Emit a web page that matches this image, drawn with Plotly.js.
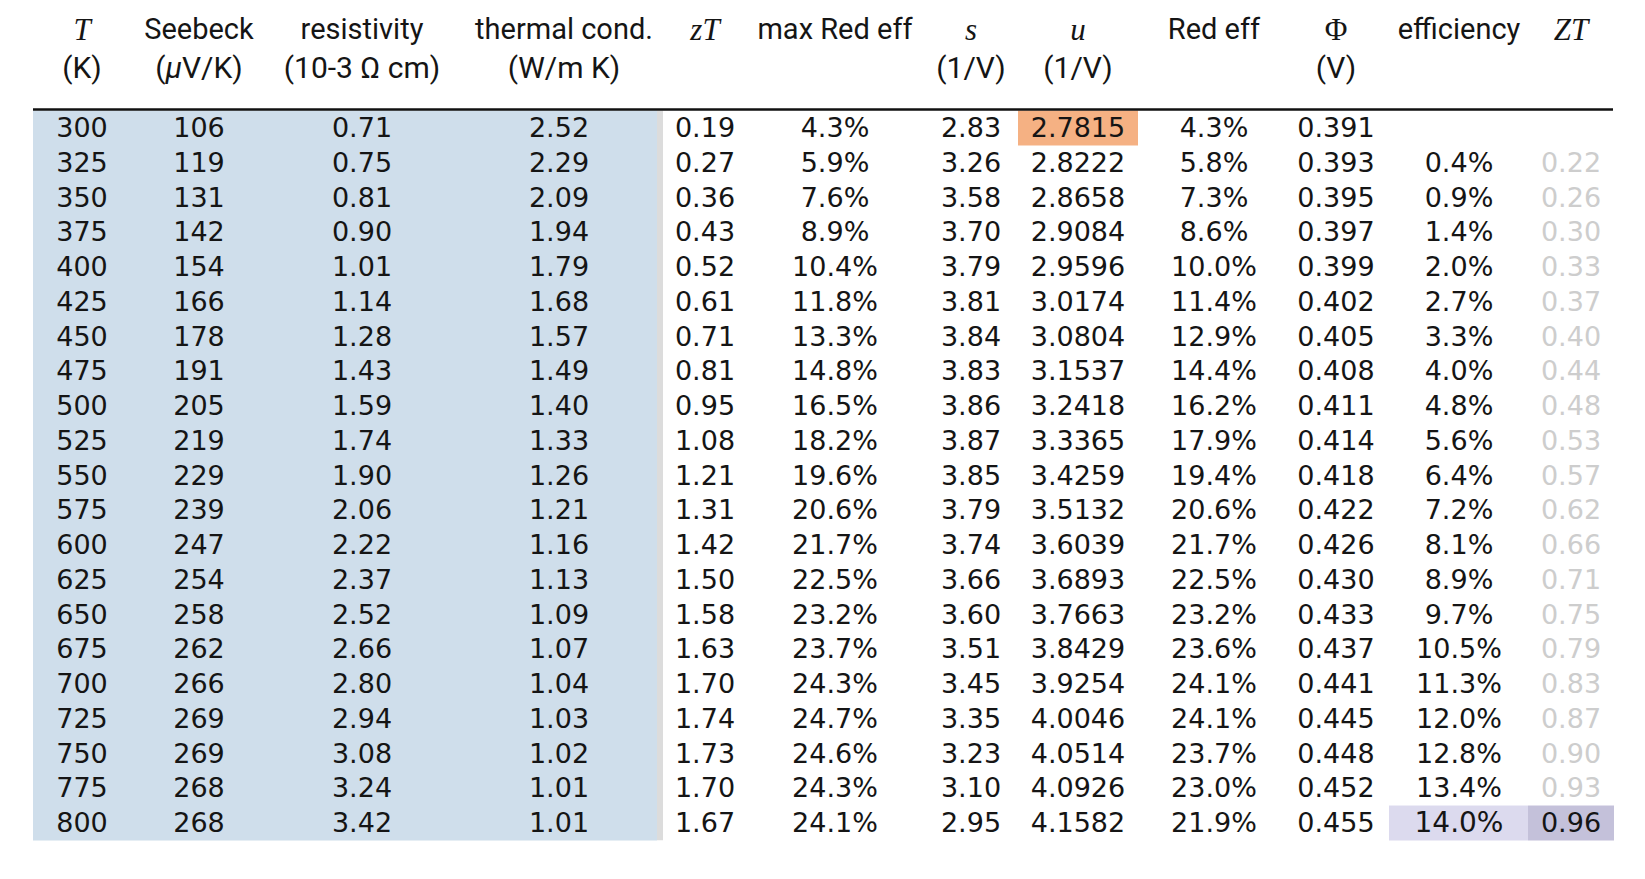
<!DOCTYPE html>
<html>
<head>
<meta charset="utf-8">
<script src="https://cdn.plot.ly/plotly-3.0.1.min.js"></script>
<style>html,body{margin:0;padding:0;background:#fff;}#chart{width:1645px;height:879px;}</style>
</head>
<body>
<div id="chart"></div>
<script>
// ---- data ----
const temperature = [300,325,350,375,400,425,450,475,500,525,550,575,600,625,650,675,700,725,750,775,800];
const seebeck = [106,119,131,142,154,166,178,191,205,219,229,239,247,254,258,262,266,269,269,268,268];
const resistivity = [0.71,0.75,0.81,0.90,1.01,1.14,1.28,1.43,1.59,1.74,1.90,2.06,2.22,2.37,2.52,2.66,2.80,2.94,3.08,3.24,3.42];
const thermalCond = [2.52,2.29,2.09,1.94,1.79,1.68,1.57,1.49,1.40,1.33,1.26,1.21,1.16,1.13,1.09,1.07,1.04,1.03,1.02,1.01,1.01];
const zT = [0.19,0.27,0.36,0.43,0.52,0.61,0.71,0.81,0.95,1.08,1.21,1.31,1.42,1.50,1.58,1.63,1.70,1.74,1.73,1.70,1.67];
const maxRedEff = [4.3,5.9,7.6,8.9,10.4,11.8,13.3,14.8,16.5,18.2,19.6,20.6,21.7,22.5,23.2,23.7,24.3,24.7,24.6,24.3,24.1];
const sVals = [2.83,3.26,3.58,3.70,3.79,3.81,3.84,3.83,3.86,3.87,3.85,3.79,3.74,3.66,3.60,3.51,3.45,3.35,3.23,3.10,2.95];
const uVals = [2.7815,2.8222,2.8658,2.9084,2.9596,3.0174,3.0804,3.1537,3.2418,3.3365,3.4259,3.5132,3.6039,3.6893,3.7663,3.8429,3.9254,4.0046,4.0514,4.0926,4.1582];
const redEff = [4.3,5.8,7.3,8.6,10.0,11.4,12.9,14.4,16.2,17.9,19.4,20.6,21.7,22.5,23.2,23.6,24.1,24.1,23.7,23.0,21.9];
const phi = [0.391,0.393,0.395,0.397,0.399,0.402,0.405,0.408,0.411,0.414,0.418,0.422,0.426,0.430,0.433,0.437,0.441,0.445,0.448,0.452,0.455];
const efficiency = [null,0.4,0.9,1.4,2.0,2.7,3.3,4.0,4.8,5.6,6.4,7.2,8.1,8.9,9.7,10.5,11.3,12.0,12.8,13.4,14.0];
const ZT = [null,0.22,0.26,0.30,0.33,0.37,0.40,0.44,0.48,0.53,0.57,0.62,0.66,0.71,0.75,0.79,0.83,0.87,0.90,0.93,0.96];

const headerLine1 = ["<i>T</i>","Seebeck","resistivity","thermal cond.","<i>zT</i>","max Red eff","<i>s</i>","<i>u</i>","Red eff","Φ","efficiency","<i>ZT</i>"];
const headerLine2 = ["(K)","(<i>μ</i>V/K)","(10-3 Ω cm)","(W/m K)","","","(1/V)","(1/V)","","(V)","",""];

// ---- layout geometry (pixels) ----
const W = 1645, H = 879;
const colX = [82,199,362,559,705,835,971,1078,1214,1336,1459,1571];
const headX = [82,199,362,564,705,835,971,1078,1214,1336,1459,1571];
const colEdges = [33,130,268,456,657,749,921,1018,1138,1291,1389,1528,1614];
const rowTop = 110.5, rowH = 34.75;
const nRows = temperature.length;
const rowY = temperature.map((_, i) => rowTop + rowH * (i + 0.5) + 2.5);
const rowEdges = Array.from({length: nRows + 1}, (_, i) => rowTop + rowH * i);

const fmt = (v, d, pct) => v === null ? "" : v.toFixed(d) + (pct ? "%" : "");
const columns = [
  temperature.map(v => String(v)),
  seebeck.map(v => String(v)),
  resistivity.map(v => fmt(v, 2)),
  thermalCond.map(v => fmt(v, 2)),
  zT.map(v => fmt(v, 2)),
  maxRedEff.map(v => fmt(v, 1, true)),
  sVals.map(v => fmt(v, 2)),
  uVals.map(v => fmt(v, 4)),
  redEff.map(v => fmt(v, 1, true)),
  phi.map(v => fmt(v, 3)),
  efficiency.map(v => fmt(v, 1, true)),
  ZT.map(v => fmt(v, 2))
];

// background cell codes: 0 blue, 1 orange, 2 lavender, 3 purple
const z = rowEdges.slice(1).map((_, r) => colX.map((_, c) => {
  if (c <= 3) return 0;
  if (r === 0 && c === 7) return 1;
  if (r === nRows - 1 && c === 10) return 2;
  if (r === nRows - 1 && c === 11) return 3;
  return null;
}));

const traces = [{
  type: 'heatmap', x: colEdges, y: rowEdges, z: z, zmin: 0, zmax: 3,
  colorscale: [[0,'#cfdeeb'],[1/3,'#f5b183'],[2/3,'#dcdaee'],[1,'#c4c1da']],
  showscale: false, hoverinfo: 'skip', xgap: 0, ygap: 0
}];

const dataFont = "DejaVu Sans";
columns.forEach((col, c) => {
  const colors = col.map((_, r) => (c === 11 && r !== nRows - 1) ? '#cdcdcd' : '#151515');
  const sizes = col.map((_, r) => (c === 10 && r === nRows - 1) ? 28 : 27);
  traces.push({
    type: 'scatter', mode: 'text', x: col.map(() => colX[c]), y: rowY, text: col,
    textposition: 'middle center', hoverinfo: 'skip', showlegend: false,
    textfont: {family: dataFont, size: sizes, color: colors}
  });
});

const serifCols = [0,4,6,7,9,11];
const hFam1 = headerLine1.map((_, c) => serifCols.includes(c) ? 'Liberation Serif' : 'Roboto');
const hSize1 = headerLine1.map((_, c) => serifCols.includes(c) ? 31 : 29);
traces.push({
  type: 'scatter', mode: 'text', x: headX, y: headX.map(() => 32), text: headerLine1,
  textposition: 'middle center', hoverinfo: 'skip', showlegend: false,
  textfont: {family: hFam1, size: hSize1, color: '#151515'}
});
traces.push({
  type: 'scatter', mode: 'text', x: headX, y: headX.map(() => 70), text: headerLine2,
  textposition: 'middle center', hoverinfo: 'skip', showlegend: false,
  textfont: {family: 'Roboto', size: 30, color: '#151515'}
});

const layout = {
  width: W, height: H, margin: {l:0, r:0, t:0, b:0},
  paper_bgcolor: '#ffffff', plot_bgcolor: '#ffffff', showlegend: false,
  xaxis: {range: [0, W], visible: false, fixedrange: true},
  yaxis: {range: [H, 0], visible: false, fixedrange: true},
  shapes: [
    {type: 'rect', xref: 'x', yref: 'y', x0: 657, x1: 663, y0: rowTop, y1: rowEdges[nRows], fillcolor: '#dcdcdc', line: {width: 0}},
    {type: 'line', xref: 'x', yref: 'y', x0: 33, x1: 1613, y0: 109.5, y1: 109.5, line: {color: '#111111', width: 2.5}}
  ]
};

Plotly.newPlot('chart', traces, layout, {staticPlot: true, displayModeBar: false});
</script>
</body>
</html>
